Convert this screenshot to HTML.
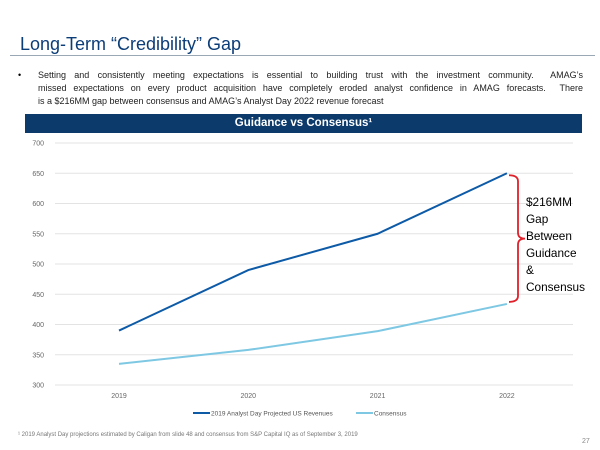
<!DOCTYPE html>
<html><head><meta charset="utf-8"><style>
body{margin:0;width:600px;height:450px;background:#fff;font-family:"Liberation Sans",sans-serif;position:relative;overflow:hidden}
.a{position:absolute}
.j{text-align:justify;text-align-last:justify;white-space:nowrap}
</style></head><body>
<div class="a" style="left:20px;top:34px;font-size:18px;color:#0b3d78">Long-Term “Credibility” Gap</div>
<div class="a" style="left:10px;top:55px;width:585px;height:1px;background:#9aa7b4"></div>
<div class="a" style="left:18px;top:70px;font-size:9px">•</div>
<div class="a" style="left:38px;top:69px;width:545px;font-size:9px;line-height:13px;color:#222">
<div class="j">Setting and consistently meeting expectations is essential to building trust with the investment community. &nbsp;AMAG’s</div>
<div class="j">missed expectations on every product acquisition have completely eroded analyst confidence in AMAG forecasts. &nbsp;There</div>
<div>is a $216MM gap between consensus and AMAG’s Analyst Day 2022 revenue forecast</div>
</div>
<div class="a" style="left:25px;top:114px;width:557px;height:19px;background:#0b3a6b;color:#fff;font-weight:bold;font-size:11.5px;text-align:center;line-height:19px">Guidance vs Consensus¹</div>
<svg class="a" style="left:0;top:0" width="600" height="450" id="chart"></svg>
<div class="a" style="left:526px;top:194px;font-size:11.8px;line-height:17px;color:#000">$216MM<br>Gap<br>Between<br>Guidance<br>&amp;<br>Consensus</div>
<div class="a" style="left:18px;top:432px;font-size:6px;color:#777">¹ 2019 Analyst Day projections estimated by Caligan from slide 48 and consensus from S&amp;P Capital IQ as of September 3, 2019</div>
<div class="a" style="left:582px;top:438px;font-size:7px;color:#888">27</div>
<script>
const categories=["2019","2020","2021","2022"];
const guidance=[390,490,550,650];
const consensus=[335,358,389,434];
const yTicks=[300,350,400,450,500,550,600,650,700];
const NS="http://www.w3.org/2000/svg";
const svg=document.getElementById('chart');
const x=i=>119+i*129.3;
const y=v=>385-(v-300)*(242/400);
function mk(t,a){const e=document.createElementNS(NS,t);for(const k in a)e.setAttribute(k,a[k]);svg.appendChild(e);return e;}
yTicks.forEach(v=>{
 const l=mk('line',{x1:55,x2:573,y1:y(v),y2:y(v),stroke:'#e3e3e3','stroke-width':1});
 
 
 const t=mk('text',{x:44,y:y(v)+2.5,'font-size':7,fill:'#666','text-anchor':'end','font-family':'Liberation Sans'});
 t.textContent=v;
 
 
});
categories.forEach((c,i)=>{
 const t=mk('text',{x:x(i),y:398,'font-size':7,fill:'#666','text-anchor':'middle','font-family':'Liberation Sans'});
 t.textContent=c;
 
 
});
function line(d,col,name){
 const p=mk('polyline',{points:d.map((v,i)=>x(i)+','+y(v)).join(' '),fill:'none',stroke:col,'stroke-width':2});
 
 
}
line(guidance,'#0d5aa7','guidance-line');
line(consensus,'#7ec8e3','consensus-line');
const l1=mk('line',{x1:193,x2:210,y1:413,y2:413,stroke:'#0d5aa7','stroke-width':2});


const t1=mk('text',{x:211,y:415.5,'font-size':6.5,fill:'#555','font-family':'Liberation Sans'});t1.textContent='2019 Analyst Day Projected US Revenues';


const l2=mk('line',{x1:356,x2:373,y1:413,y2:413,stroke:'#7ec8e3','stroke-width':2});


const t2=mk('text',{x:374,y:415.5,'font-size':6.5,fill:'#555','font-family':'Liberation Sans'});t2.textContent='Consensus';


const yt=y(guidance[3]),yb=y(consensus[3]),ym=(yt+yb)/2;
const d=`M 509 ${yt+2} Q 518 ${yt+2} 518 ${yt+8} L 518 ${ym-6} Q 518 ${ym} 525 ${ym} Q 518 ${ym} 518 ${ym+6} L 518 ${yb-8} Q 518 ${yb-2} 509 ${yb-2}`;
const b=mk('path',{d:d,fill:'none',stroke:'#e0202a','stroke-width':1.8});


</script>
</body></html>
